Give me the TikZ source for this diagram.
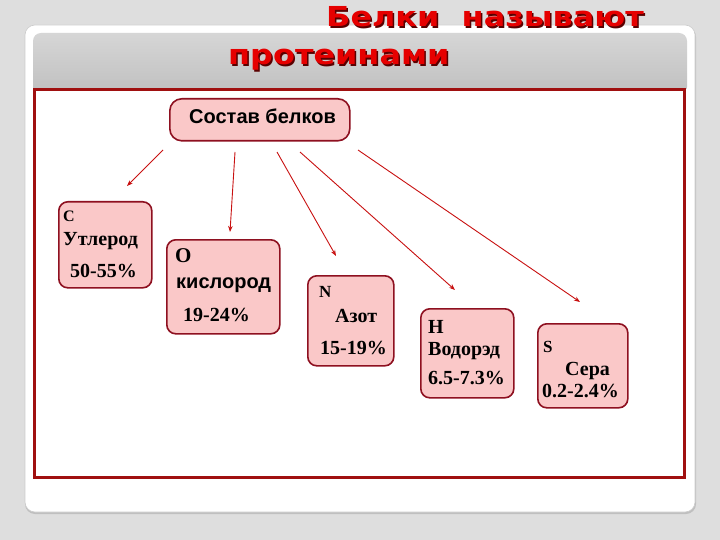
\documentclass[tikz,border=0pt]{standalone}
\usepackage{fontspec}
\setmainfont{Liberation Serif}
\newfontfamily\sansf{Liberation Sans}
\newfontfamily\titlef{DejaVu Sans}[FakeStretch=1.16]
\usetikzlibrary{arrows.meta,calc}
\definecolor{bgc}{HTML}{DEDEDE}
\definecolor{bandc}{HTML}{C4C4C4}
\definecolor{framec}{HTML}{A01010}
\definecolor{pinkc}{HTML}{FAC8C8}
\definecolor{edgec}{HTML}{8E1020}
\definecolor{arrc}{HTML}{C81010}
\definecolor{titlec}{HTML}{E60000}
\definecolor{shadc}{HTML}{5A0000}
\tikzset{
  box/.style={draw=edgec, line width=1.6pt, fill=pinkc, rounded corners=9pt, anchor=north west, inner sep=0pt},
  tx/.style={anchor=base west, inner sep=0pt, font=\bfseries\fontsize{20}{20}\selectfont, text=black},
  txs/.style={tx, font=\sansf\bfseries\fontsize{20}{20}\selectfont},
  arr/.style={draw=arrc, line width=0.9pt, -{Stealth[length=6pt,width=4.5pt]}},
  ttl/.style={anchor=base west, inner sep=0pt, font=\titlef\bfseries\fontsize{27.5}{27.5}\selectfont}
}
\begin{document}
\begin{tikzpicture}[x=1pt,y=-1pt]
\useasboundingbox (0,0) rectangle (720,540);
\fill[bgc] (0,0) rectangle (720,540);
% card
\fill[black!25, rounded corners=10pt] (25,27) rectangle (696,514);
\fill[white, draw=black!20, line width=0.6pt, rounded corners=10pt] (25,25) rectangle (695,512);
% band
\shade[top color=black!16, bottom color=black!25, rounded corners=8pt] (33,33) rectangle (687,95);
\fill[white] (33,89) rectangle (687,96);
% red frame
\draw[framec, line width=3pt] (34,89.5) rectangle (684,477);
% title
\node[ttl, text=shadc] (t1s) at (327.5,28.5) {Белки\ \ называют};
\node[ttl, text=titlec] (t1) at (326,27) {Белки\ \ называют};
\node[ttl, text=shadc] (t2s) at (229.5,66.5) {протеинами};
\node[ttl, text=titlec] (t2) at (228,65) {протеинами};
% top node
\node[box, minimum width=180pt, minimum height=42pt, rounded corners=12pt] (top) at (169,98) {};
\node[txs] (topt) at (189,124) {Состав белков};
% element boxes
\node[box, minimum width=93pt, minimum height=86pt] (c) at (58,201) {};
\node[tx, font=\bfseries\fontsize{16}{16}\selectfont] (c1) at (63,222) {С};
\node[tx] (c2) at (63,245) {Утлерод};
\node[tx] (c3) at (70,277) {50-55\%};

\node[box, minimum width=113pt, minimum height=94pt] (o) at (166,239) {};
\node[tx, font=\bfseries\fontsize{21}{21}\selectfont] (o1) at (175,262) {О};
\node[txs] (o2) at (176,288) {кислород};
\node[tx] (o3) at (183,321) {19-24\%};

\node[box, minimum width=86pt, minimum height=90pt] (n) at (307,275) {};
\node[tx, font=\bfseries\fontsize{17}{17}\selectfont] (n1) at (319,297) {N};
\node[tx] (n2) at (335,322) {Азот};
\node[tx] (n3) at (320,354) {15-19\%};

\node[box, minimum width=93pt, minimum height=89pt] (h) at (420,308) {};
\node[tx] (h1) at (428,333) {Н};
\node[tx] (h2) at (428,355) {Водорэд};
\node[tx] (h3) at (428,384) {6.5-7.3\%};

\node[box, minimum width=90pt, minimum height=84pt] (s) at (537,323) {};
\node[tx, font=\bfseries\fontsize{17}{17}\selectfont] (s1) at (543,352) {S};
\node[tx] (s2) at (565,375) {Сера};
\node[tx] (s3) at (542,397) {0.2-2.4\%};
% arrows
\coordinate (a1) at (163,150); \coordinate (b1) at (127,186);
\coordinate (a2) at (235,152); \coordinate (b2) at (230,232);
\coordinate (a3) at (277,152); \coordinate (b3) at (336,256);
\coordinate (a4) at (300,152); \coordinate (b4) at (455,290);
\coordinate (a5) at (358,150); \coordinate (b5) at (580,302);
\draw[arr] (a1) -- (b1);
\draw[arr] (a2) -- (b2);
\draw[arr] (a3) -- (b3);
\draw[arr] (a4) -- (b4);
\draw[arr] (a5) -- (b5);
\end{tikzpicture}
\end{document}
